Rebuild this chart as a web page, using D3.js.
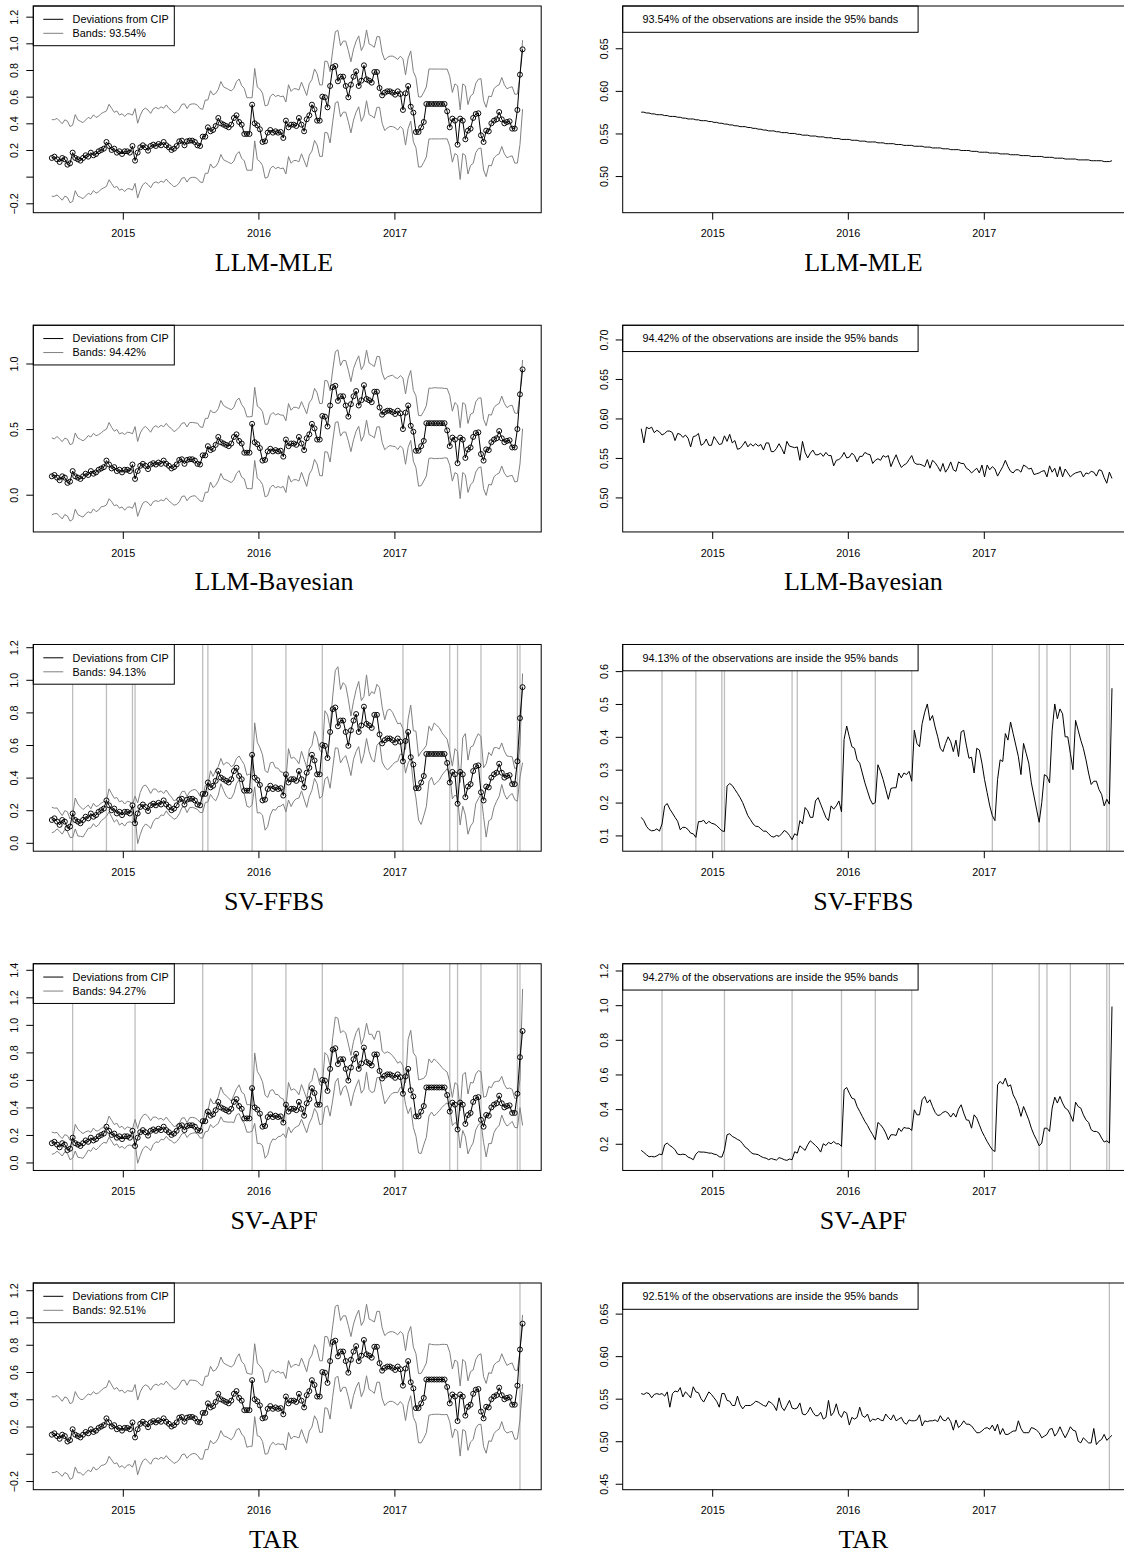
<!DOCTYPE html>
<html><head><meta charset="utf-8">
<script src="https://cdn.jsdelivr.net/npm/d3@7"></script>
<style>body{margin:0;background:#fff}svg{display:block}</style>
</head><body>
<svg id="c" width="1124" height="1553"></svg>
<script>
// ---------- DATA ----------
const startDate = Date.UTC(2014, 5, 24);   // first weekly observation
const stepDays = 7;
const modelNames = ["LLM-MLE", "LLM-Bayesian", "SV-FFBS", "SV-APF", "TAR"];
const insidePct = ["93.54", "94.42", "94.13", "94.27", "92.51"];
const xTickYears = [2015, 2016, 2017];

// Deviations from CIP (weekly)
const deviations = [
.14,.15,.13,.11,.14,.13,.09,.10,.18,.14,
.13,.12,.14,.16,.15,.18,.16,.17,.19,.20,
.21,.26,.23,.20,.21,.18,.19,.17,.19,.19,
.18,.23,.12,.18,.22,.235,.22,.195,.23,.24,
.23,.245,.235,.26,.235,.22,.20,.21,.23,.265,
.27,.235,.265,.27,.27,.26,.235,.23,.30,.30,
.37,.34,.35,.38,.44,.40,.39,.38,.37,.39,
.44,.46,.41,.39,.32,.32,.32,.54,.40,.385,
.355,.26,.265,.33,.35,.33,.34,.33,.335,.29,
.42,.37,.39,.39,.38,.44,.39,.34,.43,.46,
.54,.505,.42,.42,.60,.595,.52,.68,.82,.83,
.715,.75,.75,.68,.595,.69,.75,.79,.68,.72,
.835,.73,.72,.705,.785,.785,.665,.61,.63,.64,
.64,.63,.615,.64,.62,.50,.625,.68,.525,.48,
.335,.335,.37,.41,.545,.545,.545,.545,.545,.545,
.545,.545,.49,.37,.435,.42,.24,.435,.42,.28,
.345,.36,.44,.47,.475,.31,.26,.345,.34,.40,
.42,.43,.485,.43,.40,.41,.415,.36,.36,.50,
.765,.955];

// Width of the 95% bands (upper - lower), one series per model
const widthLLM_MLE = [
.575,.575,.574,.574,.573,.573,.572,.572,.572,.571,
.571,.570,.570,.570,.569,.569,.568,.568,.567,.567,
.567,.566,.566,.565,.565,.565,.564,.564,.563,.563,
.562,.562,.561,.561,.560,.560,.559,.559,.558,.558,
.558,.557,.557,.556,.556,.555,.555,.554,.554,.553,
.553,.553,.552,.552,.551,.551,.551,.550,.550,.550,
.549,.549,.548,.548,.548,.547,.547,.547,.546,.546,
.546,.545,.545,.545,.544,.544,.544,.543,.543,.543,
.543,.542,.542,.542,.541,.541,.541,.540,.540,.540,
.540,.539,.539,.539,.538,.538,.538,.538,.537,.537,
.537,.536,.536,.536,.536,.535,.535,.535,.535,.534,
.534,.534,.533,.533,.533,.533,.532,.532,.532,.531,
.531,.531,.531,.530,.530,.530,.530,.529,.529,.529,
.528,.528,.528,.528,.527,.527,.527,.527,.526,.526,
.526,.526,.525,.525,.525,.525,.524,.524,.524,.524,
.523,.523,.523,.523,.523,.522,.522,.522,.522,.521,
.521,.521,.521,.520,.520,.520,.520,.520,.519,.519,
.519,.519,.519,.518,.518,.518,.518,.518,.517,.517,
.517,.518];

const widthLLM_Bayes = [
.587,.569,.589,.587,.589,.582,.585,.583,.579,.581,
.584,.584,.582,.572,.581,.580,.576,.579,.575,.564,
.577,.578,.581,.566,.568,.574,.566,.566,.577,.572,.567,
.568,.578,.571,.580,.569,.572,.561,.562,.566,.571,
.564,.568,.565,.568,.565,.567,.560,.569,.569,.558,
.558,.562,.568,.562,.555,.571,.565,.564,.563,.564,
.547,.571,.557,.550,.556,.560,.554,.554,.556,.552,
.557,.553,.553,.540,.547,.548,.551,.557,.550,.551,
.556,.553,.545,.552,.552,.557,.555,.554,.543,.547,
.549,.547,.553,.551,.553,.539,.547,.554,.545,.538,
.541,.543,.548,.553,.544,.542,.542,.541,.539,.548,
.537,.547,.544,.539,.533,.543,.532,.537,.545,.535,
.533,.545,.543,.543,.537,.535,.531,.534,.537,.531,
.541,.526,.541,.535,.539,.536,.527,.533,.539,.547,
.539,.533,.531,.535,.535,.532,.541,.539,.536,.537,
.529,.530,.531,.533,.534,.526,.540,.532,.537,.526,
.539,.526,.536,.531,.526,.529,.531,.532,.533,.526,
.531,.530,.533,.532,.527,.535,.534,.525,.518,.532,
.524];

const widthSV_FFBS = [
.155,.145,.128,.118,.114,.115,.12,.113,.135,.19,
.197,.18,.168,.155,.143,.117,.125,.124,.118,.107,
.105,.094,.142,.142,.146,.135,.143,.137,.135,.13,
.122,.114,.112,.25,.258,.252,.24,.228,.215,.2,
.18,.16,.148,.135,.128,.127,.12,.113,.113,.105,
.097,.095,.1,.097,.105,.115,.11,.1,.087,.105,
.1,.145,.135,.185,.175,.155,.155,.205,.215,.195,
.175,.155,.145,.19,.18,.19,.205,.172,.392,.433,
.40,.37,.365,.33,.32,.29,.26,.235,.21,.195,
.2,.315,.295,.27,.24,.21,.243,.245,.245,.29,
.275,.29,.285,.295,.265,.42,.38,.37,.44,.475,
.5,.45,.465,.43,.4,.365,.355,.38,.4,.385,
.355,.39,.34,.415,.42,.375,.335,.338,.29,.365,
.36,.32,.27,.23,.19,.16,.145,.27,.33,.325,
.41,.39,.445,.41,.375,.34,.285,.38,.35,.32,
.26,.22,.18,.14,.2,.285,.28,.26,.42,.5,
.455,.485,.47,.4,.4,.35,.3,.45,.42,.39,
.365,.33,.29,.255,.265,.265,.24,.225,.19,.21,
.195,.548];

const widthSV_APF = [
.162,.15,.137,.125,.127,.124,.13,.14,.137,.194,
.204,.19,.18,.165,.14,.137,.14,.137,.123,.117,
.108,.14,.154,.152,.152,.15,.146,.146,.14,.137,
.125,.123,.165,.252,.258,.242,.235,.225,.218,.2,
.18,.17,.152,.142,.14,.137,.127,.12,.117,.108,
.115,.11,.106,.12,.115,.108,.104,.112,.108,.154,
.146,.188,.175,.162,.194,.217,.204,.19,.175,.152,
.2,.19,.208,.2,.213,.2,.2,.185,.512,.525,
.492,.463,.458,.415,.387,.358,.329,.306,.277,.252,
.223,.323,.31,.29,.262,.223,.252,.252,.248,.29,
.271,.294,.29,.29,.277,.396,.367,.367,.454,.473,
.435,.454,.415,.381,.363,.367,.381,.387,.377,.354,
.377,.354,.4,.425,.377,.338,.335,.29,.367,.348,
.31,.271,.242,.213,.188,.165,.155,.54,.56,.544,
.579,.531,.54,.483,.454,.415,.358,.415,.377,.338,
.29,.252,.223,.188,.204,.29,.29,.271,.406,.469,
.435,.473,.435,.406,.396,.367,.329,.44,.415,.406,
.367,.338,.323,.281,.271,.271,.262,.233,.21,.217,
.204,.992];

const widthTAR = [
.556,.555,.557,.556,.551,.555,.556,.555,.556,.553,
.558,.540,.556,.559,.558,.563,.552,.558,.555,.551,
.564,.558,.557,.550,.546,.552,.558,.555,.551,.547,
.540,.556,.556,.548,.547,.542,.542,.553,.543,.538,
.542,.542,.542,.544,.547,.546,.544,.542,.541,.547,
.545,.542,.536,.551,.540,.536,.542,.548,.539,.538,
.539,.545,.532,.531,.534,.540,.534,.530,.530,.534,
.526,.528,.548,.530,.534,.544,.532,.528,.535,.533,
.519,.528,.526,.528,.540,.530,.528,.532,.523,.526,
.525,.527,.525,.524,.532,.528,.525,.531,.524,.526,
.528,.522,.520,.525,.524,.524,.525,.531,.518,.524,
.523,.524,.524,.525,.523,.530,.525,.524,.528,.523,
.513,.525,.516,.519,.524,.520,.520,.518,.514,.510,
.510,.512,.515,.516,.514,.519,.512,.520,.508,.515,
.508,.508,.510,.512,.512,.524,.515,.510,.510,.510,
.516,.515,.513,.510,.504,.506,.508,.514,.515,.506,
.510,.517,.510,.504,.510,.517,.513,.512,.500,.498,
.504,.501,.498,.498,.515,.496,.500,.502,.508,.501,
.504,.507];

// Weeks (index into the series) marked by vertical grey lines
const marksLLM_MLE = [];
const marksLLM_Bayes = [];
const marksSV_FFBS = [8,21,31,32,58,60,77,90,104,135,153,156,165,179,180];
const marksSV_APF = [8,32,58,77,90,104,135,153,156,165,179,180];
const marksTAR = [180];

// y axis ticks / labels per panel
const yTicksLeft = [
  [-0.2,0,0.2,0.4,0.6,0.8,1.0,1.2],
  [0,0.5,1.0],
  [0,0.2,0.4,0.6,0.8,1.0,1.2],
  [0,0.2,0.4,0.6,0.8,1.0,1.2,1.4],
  [-0.2,0,0.2,0.4,0.6,0.8,1.0,1.2]];
const yLabelsLeft = [
  ["\u22120.2","","0.2","0.4","0.6","0.8","1.0","1.2"],
  ["0.0","0.5","1.0"],
  ["0.0","0.2","0.4","0.6","0.8","1.0","1.2"],
  ["0.0","0.2","0.4","0.6","0.8","1.0","1.2","1.4"],
  ["\u22120.2","","0.2","0.4","0.6","0.8","1.0","1.2"]];
const yTicksRight = [
  [0.50,0.55,0.60,0.65],
  [0.50,0.55,0.60,0.65,0.70],
  [0.1,0.2,0.3,0.4,0.5,0.6],
  [0.2,0.4,0.6,0.8,1.0,1.2],
  [0.45,0.50,0.55,0.60,0.65]];
const yLabelsRight = [
  ["0.50","0.55","0.60","0.65"],
  ["0.50","0.55","0.60","0.65","0.70"],
  ["0.1","0.2","0.3","0.4","0.5","0.6"],
  ["0.2","0.4","0.6","0.8","1.0","1.2"],
  ["0.45","0.50","0.55","0.60","0.65"]];
const yDomLeft = [[-0.2705,1.28],[-0.284,1.2915],[-0.0515,1.2166],[-0.058,1.444],[-0.2635,1.253]];
const yDomRight = [[0.457,0.6996],[0.4563,0.718],[0.052,0.681],[0.046,1.239],[0.443,0.686]];

// ---------- DRAW ----------
const widths = [widthLLM_MLE, widthLLM_Bayes, widthSV_FFBS, widthSV_APF, widthTAR];
const marks = [marksLLM_MLE, marksLLM_Bayes, marksSV_FFBS, marksSV_APF, marksTAR];
const N = deviations.length;
const dates = d3.range(N).map(i => d3.utcDay.offset(new Date(startDate), i * stepDays));
const tickDates = xTickYears.map(y => new Date(Date.UTC(y, 0, 1)));

const svg = d3.select("#c");
const defs = svg.append("defs");
const SANS = "'Liberation Sans', Arial, Helvetica, sans-serif";
const SERIF = "'Liberation Serif', 'Times New Roman', serif";
const FS = 10.8;

const BL = 33.3, BR = 541.2, RIGHT_OFF = 589.4, ROW = 319.25, H = 206.7;
const x = d3.scaleUtc().domain([tickDates[0], tickDates[2]]).range([122.8, 394.4]);

function panel(r, side) {
  const off = side ? RIGHT_OFF : 0;
  const top = 6 + ROW * r, bot = top + H;
  const g = svg.append("g").attr("transform", `translate(${off},0)`);
  const dom = side ? yDomRight[r] : yDomLeft[r];
  const y = d3.scaleLinear().domain(dom).range([bot, top]);
  const cid = `clip${r}_${side}`;
  defs.append("clipPath").attr("id", cid).append("rect")
    .attr("x", BL).attr("y", top).attr("width", BR - BL).attr("height", H);
  const pg = g.append("g").attr("clip-path", `url(#${cid})`);

  // vertical marks
  pg.selectAll("line.mark").data(marks[r]).join("line")
    .attr("x1", d => x(dates[d])).attr("x2", d => x(dates[d]))
    .attr("y1", top).attr("y2", bot)
    .attr("stroke", "#bebebe").attr("stroke-width", 1.3);

  const w = widths[r];
  if (!side) {
    const centre = i => deviations[Math.max(0, i - 1)];
    const upper = d3.line().x((d, i) => x(dates[i])).y((d, i) => y(centre(i) + w[i] / 2));
    const lower = d3.line().x((d, i) => x(dates[i])).y((d, i) => y(centre(i) - w[i] / 2));
    pg.append("path").attr("d", upper(w)).attr("fill", "none").attr("stroke", "#808080").attr("stroke-width", 1);
    pg.append("path").attr("d", lower(w)).attr("fill", "none").attr("stroke", "#808080").attr("stroke-width", 1);
    const ln = d3.line().x((d, i) => x(dates[i])).y(d => y(d));
    pg.append("path").attr("d", ln(deviations)).attr("fill", "none").attr("stroke", "#000").attr("stroke-width", 1);
    pg.selectAll("circle").data(deviations).join("circle")
      .attr("cx", (d, i) => x(dates[i])).attr("cy", d => y(d)).attr("r", 2.5)
      .attr("fill", "none").attr("stroke", "#000").attr("stroke-width", 0.95);
  } else {
    const ln = d3.line().x((d, i) => x(dates[i])).y(d => y(d));
    pg.append("path").attr("d", ln(w)).attr("fill", "none").attr("stroke", "#000").attr("stroke-width", 1);
  }

  // legend
  const lg = g.append("g");
  if (!side) {
    lg.append("rect").attr("x", BL).attr("y", top).attr("width", 141).attr("height", 39.7)
      .attr("fill", "#fff").attr("stroke", "#000").attr("stroke-width", 1);
    const items = [["Deviations from CIP", "#000"], ["Bands: " + insidePct[r] + "%", "#808080"]];
    items.forEach((it, k) => {
      const yy = top + 13.3 + 14 * k;
      lg.append("line").attr("x1", BL + 10).attr("x2", BL + 30).attr("y1", yy).attr("y2", yy)
        .attr("stroke", it[1]).attr("stroke-width", 1);
      lg.append("text").attr("x", BL + 39.3).attr("y", yy + 3.9).text(it[0])
        .attr("font-family", SANS).attr("font-size", FS).attr("fill", "#000");
    });
  } else {
    lg.append("rect").attr("x", BL).attr("y", top).attr("width", 295.4).attr("height", 26.3)
      .attr("fill", "#fff").attr("stroke", "#000").attr("stroke-width", 1);
    lg.append("text").attr("x", BL + 19.8).attr("y", top + 13.3 + 3.9)
      .text(insidePct[r] + "% of the observations are inside the 95% bands")
      .attr("font-family", SANS).attr("font-size", FS).attr("fill", "#000");
  }

  // box
  g.append("rect").attr("x", BL).attr("y", top).attr("width", BR - BL).attr("height", H)
    .attr("fill", "none").attr("stroke", "#000").attr("stroke-width", 1);

  // x axis
  const xa = g.append("g").attr("transform", `translate(0,${bot})`)
    .call(d3.axisBottom(x).tickValues(tickDates).tickFormat(d3.utcFormat("%Y")).tickSize(7).tickPadding(10));
  xa.select(".domain").remove();
  xa.selectAll("text").attr("font-family", SANS).attr("font-size", FS).attr("fill", "#000");
  xa.selectAll("line").attr("stroke", "#000");

  // y axis
  const ticks = side ? yTicksRight[r] : yTicksLeft[r];
  const labels = side ? yLabelsRight[r] : yLabelsLeft[r];
  const ya = g.append("g").attr("transform", `translate(${BL},0)`)
    .call(d3.axisLeft(y).tickValues(ticks).tickFormat((d, i) => labels[i]).tickSize(7));
  ya.select(".domain").remove();
  ya.selectAll("line").attr("stroke", "#000");
  ya.selectAll("text").attr("x", null).attr("dy", null)
    .attr("transform", "translate(-15.1,0) rotate(-90)")
    .attr("text-anchor", "middle")
    .attr("font-family", SANS).attr("font-size", FS).attr("fill", "#000");

  // caption
  const tc = `tclip${r}_${side}`;
  const base = top + 265;
  defs.append("clipPath").attr("id", tc).append("rect")
    .attr("x", 0).attr("y", base - 40).attr("width", 560).attr("height", 41.5);
  g.append("text").attr("clip-path", `url(#${tc})`)
    .attr("x", 274).attr("y", base).attr("text-anchor", "middle")
    .attr("font-family", SERIF).attr("font-size", 26).attr("fill", "#000")
    .text(modelNames[r]);
}

for (let r = 0; r < 5; r++) { panel(r, 0); panel(r, 1); }
</script>
</body></html>
